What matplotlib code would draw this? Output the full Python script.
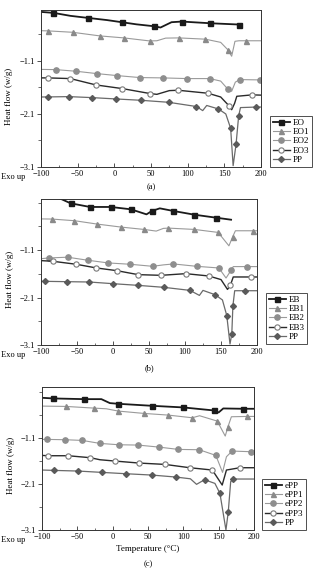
import matplotlib
matplotlib.use("Agg")
import matplotlib.pyplot as plt
from matplotlib.ticker import MultipleLocator, FixedLocator

plt.rcParams['font.family'] = ['Liberation Serif', 'DejaVu Serif']

# ---------------- Panel (a) ----------------
EO_T = [-100, -83, -60, -36, -10, 10, 30, 54, 63, 78, 92, 131, 170, 174]
EO_V = [-0.176, -0.194, -0.25, -0.289, -0.33, -0.37, -0.41, -0.446, -0.47, -0.37, -0.358, -0.39, -0.414, -0.415]
EO_M = [1, 3, 5, 7, 10, 11, 12]

EO1_T = [-100, -90, -57, -20, 13, 48, 58, 70, 88, 124, 145, 154.5, 160, 164.5, 170, 180, 200]
EO1_V = [-0.53, -0.534, -0.56, -0.628, -0.666, -0.723, -0.72, -0.67, -0.666, -0.69, -0.75, -0.886, -1.012, -0.73, -0.72, -0.72, -0.72]
EO1_M = [1, 2, 3, 4, 5, 8, 9, 11, 15]

EO2_T = [-100, -80, -52, -24, 4, 35, 66, 99, 130, 145, 154.5, 160, 165, 171, 199, 200]
EO2_V = [-1.26, -1.264, -1.295, -1.339, -1.377, -1.414, -1.42, -1.433, -1.433, -1.48, -1.628, -1.672, -1.5, -1.452, -1.458, -1.458]
EO2_M = [1, 2, 3, 4, 5, 6, 7, 8, 10, 13, 14]

EO3_T = [-100, -91, -60, -25, 11, 49, 58, 75, 87, 128, 145, 157, 160, 164, 167, 188, 200]
EO3_V = [-1.42, -1.42, -1.433, -1.553, -1.622, -1.716, -1.73, -1.66, -1.653, -1.71, -1.78, -1.955, -2.02, -1.9, -1.767, -1.74, -1.745]
EO3_M = [1, 2, 3, 4, 5, 8, 9, 11, 15]

PPa_T = [-100, -91, -62, -30, 2, 36, 74, 112, 120.5, 126, 142, 152, 158.6, 162, 166, 169.5, 172, 193, 200]
PPa_V = [-1.78, -1.779, -1.773, -1.792, -1.817, -1.842, -1.88, -1.96, -2.037, -1.94, -2.006, -2.1, -2.37, -3.075, -2.67, -2.14, -1.98, -1.97, -1.97]
PPa_M = [1, 2, 3, 4, 5, 6, 7, 10, 12, 14, 15, 17]

# ---------------- Panel (b) ----------------
EB_T = [-75, -59, -32, -3, 25, 46.5, 54, 65, 84, 113, 143, 164]
EB_V = [0.0, -0.11, -0.188, -0.188, -0.238, -0.344, -0.273, -0.217, -0.273, -0.351, -0.414, -0.457]
EB_M = [1, 2, 3, 4, 6, 8, 9, 10]

EB1_T = [-100, -85, -53.5, -22, 11, 43, 60, 70, 77, 113, 146, 161, 166, 170, 195, 200]
EB1_V = [-0.44, -0.443, -0.478, -0.549, -0.612, -0.662, -0.697, -0.64, -0.634, -0.662, -0.725, -1.008, -0.824, -0.69, -0.69, -0.69]
EB1_M = [1, 2, 3, 4, 5, 8, 9, 10, 12, 14]

EB2_T = [-100, -89, -63, -35, -6.5, 24, 55, 70, 84, 116, 147, 157, 164, 167, 186.5, 200]
EB2_V = [-1.28, -1.263, -1.248, -1.312, -1.369, -1.397, -1.44, -1.41, -1.39, -1.44, -1.475, -1.687, -1.524, -1.446, -1.446, -1.446]
EB2_M = [1, 2, 3, 4, 5, 6, 8, 9, 10, 12, 14]

EB3_T = [-100, -84, -51, -23, 5, 35, 67, 101, 133, 150, 159, 163, 167, 191, 200]
EB3_V = [-1.32, -1.333, -1.397, -1.475, -1.531, -1.616, -1.63, -1.595, -1.644, -1.72, -1.927, -1.842, -1.665, -1.665, -1.665]
EB3_M = [1, 2, 3, 4, 5, 6, 7, 8, 11, 13]

PPb_T = [-100, -94, -64, -33, 0.5, 35, 71, 107, 120, 125, 142, 152, 158, 162.5, 165, 166.5, 169, 183, 200]
PPb_V = [-1.757, -1.757, -1.764, -1.771, -1.807, -1.842, -1.884, -1.948, -2.054, -1.948, -2.04, -2.15, -2.478, -3.079, -2.866, -2.28, -1.955, -1.955, -1.955]
PPb_M = [1, 2, 3, 4, 5, 6, 7, 10, 12, 14, 15, 17]

# ---------------- Panel (c) ----------------
ePP_T = [-100, -84, -41, -16, -4, 8, 55, 100, 143, 150, 156.5, 184, 200]
ePP_V = [-0.234, -0.248, -0.263, -0.263, -0.349, -0.364, -0.407, -0.443, -0.508, -0.551, -0.465, -0.472, -0.472]
ePP_M = [1, 2, 5, 6, 7, 8, 11]

ePP1_T = [-100, -66.5, -27, -9, 8, 44.5, 78.6, 112.6, 123, 148, 159.3, 163, 168, 190.5, 200]
ePP1_V = [-0.414, -0.421, -0.457, -0.472, -0.522, -0.573, -0.609, -0.667, -0.623, -0.739, -1.064, -0.869, -0.645, -0.638, -0.638]
ePP1_M = [1, 2, 4, 5, 6, 7, 9, 11, 13]

ePP2_T = [-100, -93, -67, -43, -18, 8.6, 36, 65, 93, 122.5, 146, 155.5, 161, 169, 196, 200]
ePP2_V = [-1.136, -1.136, -1.143, -1.158, -1.223, -1.252, -1.259, -1.302, -1.353, -1.36, -1.483, -1.851, -1.512, -1.389, -1.403, -1.403]
ePP2_M = [1, 2, 3, 4, 5, 6, 7, 8, 9, 10, 13, 14]

ePP3_T = [-100, -91.5, -63, -31.5, -18, 3, 37.5, 74, 109, 141, 155, 161, 180, 200]
ePP3_V = [-1.483, -1.49, -1.49, -1.533, -1.577, -1.605, -1.649, -1.678, -1.75, -1.8, -2.125, -1.8, -1.75, -1.75]
ePP3_M = [1, 2, 3, 5, 6, 7, 8, 9, 12]

PPc_T = [-100, -82.5, -49, -15.4, 18.6, 55.4, 89.4, 110, 118.7, 130, 144.7, 151.8, 160.3, 163.6, 167, 170.7, 200]
PPc_V = [-1.80, -1.808, -1.822, -1.851, -1.88, -1.909, -1.952, -1.99, -2.11, -2.01, -2.09, -2.306, -3.1, -2.703, -2.053, -1.995, -1.995]
PPc_M = [1, 2, 3, 4, 5, 6, 9, 11, 13, 15]

Y_TICKS = [-1.1, -2.1, -3.1]
Y_LABELS = ['\u22121.1', '\u22122.1', '\u22123.1']
Y_MINOR = [-0.1, -0.6, -1.6, -2.6]
X_TICKS = [-100, -50, 0, 50, 100, 150, 200]
X_LABELS = ['\u2212100', '\u221250', '0', '50', '100', '150', '200']

STYLES = [
    dict(color='#1a1a1a', lw=1.3, marker='s', mfc='#1a1a1a', mec='#1a1a1a', ms=3.6),
    dict(color='#9a9a9a', lw=0.8, marker='^', mfc='#8a8a8a', mec='#8a8a8a', ms=3.6),
    dict(color='#9a9a9a', lw=0.8, marker='o', mfc='#8e8e8e', mec='#8e8e8e', ms=3.8),
    dict(color='#2a2a2a', lw=1.0, marker='o', mfc='white', mec='#7a7a7a', ms=3.8, mew=0.8),
    dict(color='#6a6a6a', lw=0.9, marker='D', mfc='#5a5a5a', mec='#5a5a5a', ms=3.0),
]

W, H = 313, 569
fig = plt.figure(figsize=(W / 100, H / 100), dpi=100)

def px_axes(l, t, r, b):
    return fig.add_axes([l / W, 1 - b / H, (r - l) / W, (b - t) / H])

panels = [
    dict(box=(41, 10, 261, 167), ytop=-0.14, tag='(a)', tagy=187, leg=(270, 167),
         series=[('EO', EO_T, EO_V, EO_M), ('EO1', EO1_T, EO1_V, EO1_M), ('EO2', EO2_T, EO2_V, EO2_M),
                 ('EO3', EO3_T, EO3_V, EO3_M), ('PP', PPa_T, PPa_V, PPa_M)]),
    dict(box=(41, 199, 257, 345), ytop=-0.02, tag='(b)', tagy=368, leg=(266, 344),
         series=[('EB', EB_T, EB_V, EB_M), ('EB1', EB1_T, EB1_V, EB1_M), ('EB2', EB2_T, EB2_V, EB2_M),
                 ('EB3', EB3_T, EB3_V, EB3_M), ('PP', PPb_T, PPb_V, PPb_M)]),
    dict(box=(42, 387, 254, 530), ytop=0.0, tag='(c)', tagy=568.5, leg=(262, 530),
         series=[('ePP', ePP_T, ePP_V, ePP_M), ('ePP1', ePP1_T, ePP1_V, ePP1_M), ('ePP2', ePP2_T, ePP2_V, ePP2_M),
                 ('ePP3', ePP3_T, ePP3_V, ePP3_M), ('PP', PPc_T, PPc_V, PPc_M)]),
]

for i, p in enumerate(panels):
    l, t, r, b = p['box']
    ax = px_axes(l, t, r, b)
    for (name, T, V, M), st in zip(p['series'], STYLES):
        ax.plot(T, V, markevery=M, label=name, clip_on=True, **st)
    ax.set_xlim(-100, 200)
    ax.set_ylim(-3.1, p['ytop'])
    ax.xaxis.set_major_locator(FixedLocator(X_TICKS))
    ax.set_xticklabels(X_LABELS)
    ax.xaxis.set_minor_locator(MultipleLocator(25))
    ax.yaxis.set_major_locator(FixedLocator(Y_TICKS))
    ax.set_yticklabels(Y_LABELS)
    ax.yaxis.set_minor_locator(FixedLocator(Y_MINOR))
    ax.tick_params(axis='both', which='both', labelsize=6, color='#333333')
    ax.tick_params(axis='y', which='major', direction='out', length=3, width=0.6, pad=1.5)
    ax.tick_params(axis='y', which='minor', direction='out', length=2, width=0.5)
    ax.tick_params(axis='x', which='major', direction='in', length=3, width=0.6, pad=2)
    ax.tick_params(axis='x', which='minor', direction='in', length=1.8, width=0.5)
    for s in ax.spines.values():
        s.set_linewidth(0.7)
        s.set_color('#333333')
    ax.set_ylabel('Heat flow (w/g)', fontsize=6.5, labelpad=2)
    ax.yaxis.set_label_coords(-0.125, 0.45)
    fig.text(1 / W, 1 - (b + 10) / H, 'Exo up', fontsize=6, ha='left', va='center')
    fig.text(((l + r) / 2) / W, 1 - p['tagy'] / H, p['tag'], fontsize=6, ha='center',
             va='bottom' if i == 2 else 'center')
    lx, ly = p['leg']
    leg = ax.legend(loc='lower left', bbox_to_anchor=(lx / W, 1 - ly / H), bbox_transform=fig.transFigure,
                    fontsize=6.5, frameon=True, fancybox=False, edgecolor='#222222', handlelength=1.9,
                    handletextpad=0.3, borderpad=0.3, labelspacing=0.12, borderaxespad=0.0)
    leg.get_frame().set_linewidth(0.7)
    if i == 2:
        ax.set_xlabel('Temperature (\u00b0C)', fontsize=6.5, labelpad=3)

fig.savefig('out.png', dpi=100)
